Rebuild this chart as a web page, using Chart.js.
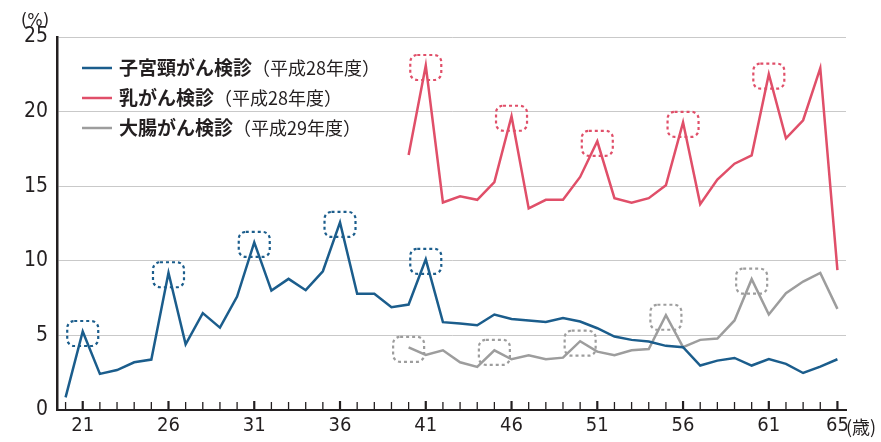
<!DOCTYPE html>
<html>
<head>
<meta charset="utf-8">
<script src="https://cdn.jsdelivr.net/npm/chart.js@4.4.1/dist/chart.umd.min.js"></script>
<style>
  body { margin: 0; background: #fff; }
  #wrap { position: relative; width: 881px; height: 442px; }
</style>
</head>
<body>
<div id="wrap"><canvas id="lineChart"></canvas></div>
<script>
// ages 20-65
const ages = ['20','21','22','23','24','25','26','27','28','29','30','31','32','33','34','35','36','37','38','39','40','41','42','43','44','45','46','47','48','49','50','51','52','53','54','55','56','57','58','59','60','61','62','63','64','65'];
const labelledAges = ['21','26','31','36','41','46','51','56','61','65'];

// 子宮頸がん検診 (平成28年度)
const cervical = [0.85, 5.26, 2.42, 2.68, 3.2, 3.38, 9.2, 4.4, 6.49, 5.52, 7.6, 11.23, 8.0, 8.79, 8.03, 9.3, 12.57, 7.79, 7.79, 6.89,
                  7.07, 10.1, 5.89, 5.8, 5.68, 6.4, 6.1, 6.0, 5.9, 6.17, 5.93, 5.48, 4.92, 4.7, 4.59, 4.3, 4.21, 2.98, 3.31, 3.49,
                  2.98, 3.42, 3.09, 2.48, 2.91, 3.4];
// 乳がん検診 (平成28年度), from age 40
const breast = [null, null, null, null, null, null, null, null, null, null, null, null, null, null, null, null, null, null, null, null,
                17.09, 23.09, 13.91, 14.32, 14.09, 15.28, 19.69, 13.51, 14.09, 14.09, 15.62, 18.01, 14.2, 13.89, 14.2, 15.06, 19.28, 13.8, 15.44, 16.51,
                17.07, 22.51, 18.21, 19.42, 22.91, 9.37];
// 大腸がん検診 (平成29年度), from age 40
const colorectal = [null, null, null, null, null, null, null, null, null, null, null, null, null, null, null, null, null, null, null, null,
                    4.2, 3.69, 4.0, 3.2, 2.89, 4.0, 3.4, 3.67, 3.4, 3.51, 4.61, 3.91, 3.67, 4.0, 4.09, 6.35, 4.21, 4.7, 4.79, 6.0,
                    8.77, 6.4, 7.83, 8.61, 9.19, 6.78];

const cervicalPeaks = ['21','26','31','36','41'];
const breastPeaks = ['41','46','51','56','61'];
const colorectalPeaks = ['40','45','50','55','60'];

const BLUE = '#1b5d8c';
const RED = '#e04f69';
const GRAY = '#9d9d9d';
const INK = '#231f20';
const NUM_FONT = "'DejaVu Sans Condensed', 'Liberation Sans Narrow', Roboto, sans-serif";
const JP_FONT = "'Noto Sans CJK JP', sans-serif";

// upward tick marks on the x axis
const tickMarks = {
    id: 'tickMarks',
    afterDraw(chart) {
        const c = chart.ctx, xs = chart.scales.x, bottom = chart.chartArea.bottom;
        c.save();
        c.strokeStyle = INK;
        ages.forEach((a, i) => {
            const x = xs.getPixelForValue(i);
            const big = labelledAges.includes(a);
            c.lineWidth = big ? 2.2 : 1.3;
            c.beginPath();
            c.moveTo(x, bottom);
            c.lineTo(x, bottom - (big ? 9 : 8));
            c.stroke();
        });
        c.restore();
    }
};

// dashed rounded boxes around peaks
const peakBoxes = {
    id: 'peakBoxes',
    afterDatasetsDraw(chart) {
        const c = chart.ctx, xs = chart.scales.x, ys = chart.scales.y;
        const groups = [[cervical, cervicalPeaks, BLUE], [breast, breastPeaks, RED], [colorectal, colorectalPeaks, GRAY]];
        c.save();
        c.setLineDash([3, 3]);
        c.lineWidth = 2.2;
        groups.forEach(([data, peaks, color]) => {
            c.strokeStyle = color;
            peaks.forEach(a => {
                const i = ages.indexOf(a);
                const x = xs.getPixelForValue(i);
                const y = ys.getPixelForValue(data[i]) + 2;
                c.beginPath();
                c.roundRect(x - 15.5, y - 12.5, 31, 25, 7);
                c.stroke();
            });
        });
        c.restore();
    }
};

// legend with bold name + normal year, and unit labels
const legendAndUnits = {
    id: 'legendAndUnits',
    afterDraw(chart) {
        const c = chart.ctx;
        const rows = [
            ['子宮頸がん検診', '（平成28年度）', BLUE],
            ['乳がん検診', '（平成28年度）', RED],
            ['大腸がん検診', '（平成29年度）', GRAY]
        ];
        c.save();
        c.textBaseline = 'middle';
        rows.forEach(([name, year, color], k) => {
            const y = 68 + k * 30;
            c.strokeStyle = color;
            c.lineWidth = 2.5;
            c.beginPath();
            c.moveTo(82, y);
            c.lineTo(112, y);
            c.stroke();
            c.fillStyle = INK;
            c.font = 'bold 19px ' + JP_FONT;
            c.fillText(name, 119, y);
            const w = c.measureText(name).width;
            c.font = '18px ' + JP_FONT;
            c.fillText(year, 119 + w, y);
        });
        c.font = '18px ' + NUM_FONT;
        c.textAlign = 'left';
        c.fillText('(%)', 21, 21);
        c.font = '18px ' + JP_FONT;
        c.fillText('(歳)', 846, 427);
        c.restore();
    }
};

const ctx = document.getElementById('lineChart').getContext('2d');
const myChart = new Chart(ctx, {
    type: 'line',
    data: {
        labels: ages,
        datasets: [
            { label: '子宮頸がん検診（平成28年度）', data: cervical, borderColor: BLUE },
            { label: '乳がん検診（平成28年度）', data: breast, borderColor: RED },
            { label: '大腸がん検診（平成29年度）', data: colorectal, borderColor: GRAY }
        ]
    },
    options: {
        responsive: true,
        maintainAspectRatio: false,
        animation: false,
        layout: { padding: { top: 37, right: 35, left: 0, bottom: 0 } },
        elements: {
            line: { borderWidth: 2.5, tension: 0, borderJoinStyle: 'miter', fill: false },
            point: { radius: 0, hoverRadius: 0 }
        },
        plugins: {
            legend: { display: false },
            tooltip: { enabled: false }
        },
        scales: {
            x: {
                offset: true,
                grid: { display: false, drawTicks: false },
                border: { display: true, color: INK, width: 2 },
                ticks: {
                    autoSkip: false,
                    maxRotation: 0,
                    padding: 4,
                    color: INK,
                    font: { family: NUM_FONT, size: 20 },
                    callback: (v, i) => labelledAges.includes(ages[i]) ? ages[i] : ''
                },
                afterFit: s => { s.height = 32; }
            },
            y: {
                min: 0,
                max: 25,
                grid: {
                    drawTicks: false,
                    color: c => c.tick.value === 0 ? 'rgba(0,0,0,0)' : '#c9c9c9',
                    lineWidth: 1
                },
                border: { display: true, color: INK, width: 2.5 },
                ticks: {
                    stepSize: 5,
                    padding: 9,
                    color: INK,
                    font: { family: NUM_FONT, size: 21 }
                },
                afterFit: s => { s.width = 57; }
            }
        }
    },
    plugins: [peakBoxes, tickMarks, legendAndUnits]
});
</script>
</body>
</html>
